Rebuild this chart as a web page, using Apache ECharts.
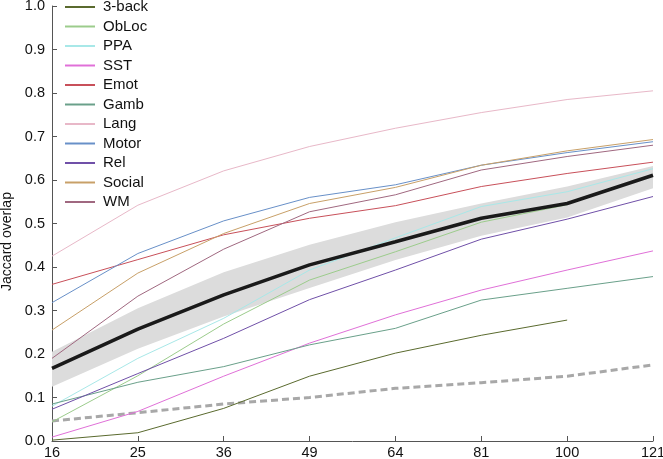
<!DOCTYPE html>
<html>
<head>
<meta charset="utf-8">
<script src="https://cdn.jsdelivr.net/npm/echarts@6/dist/echarts.min.js"></script>
<style>html,body{margin:0;padding:0;background:#fff}#c{width:663px;height:459px}</style>
</head>
<body>
<div id="c"></div>
<script>
var categories = ['16','25','36','49','64','81','100','121'];
var names = ['3-back','ObLoc','PPA','SST','Emot','Gamb','Lang','Motor','Rel','Social','WM'];
var colors = ['#5a6a2e','#9ccc8c','#a8e8e8','#e070d8','#c8505a','#6aa08a','#e8b8c8','#6890c8','#7050a8','#c8a068','#a06880'];
var back3  = [0.002,0.019,0.075,0.149,0.202,0.243,0.278,null];
var obloc  = [0.044,0.150,0.269,0.370,0.435,0.503,0.543,null];
var ppa    = [0.080,0.190,0.282,0.393,0.467,0.539,0.573,0.626];
var sst    = [0.009,0.068,0.149,0.225,0.290,0.347,0.393,0.437];
var emot   = [0.360,0.417,0.474,0.512,0.541,0.585,0.615,0.641];
var gamb   = [0.085,0.135,0.171,0.221,0.259,0.324,0.351,0.378];
var lang   = [0.425,0.542,0.621,0.677,0.719,0.755,0.785,0.805];
var motor  = [0.318,0.431,0.506,0.560,0.589,0.634,0.663,0.688];
var rel    = [0.073,0.155,0.236,0.325,0.393,0.464,0.510,0.562];
var social = [0.255,0.386,0.477,0.546,0.583,0.634,0.667,0.693];
var wm     = [0.190,0.333,0.441,0.527,0.566,0.623,0.654,0.680];
var meanVals  = [0.167,0.257,0.336,0.405,0.458,0.512,0.546,0.611];
var bandLower = [0.125,0.212,0.286,0.352,0.416,0.472,0.514,0.581];
var bandUpper = [0.205,0.305,0.388,0.451,0.503,0.546,0.585,0.632];
var nullVals  = [0.046,0.065,0.085,0.100,0.121,0.134,0.149,0.175];
var yTicks = ['0.0','0.1','0.2','0.3','0.4','0.5','0.6','0.7','0.8','0.9','1.0'];

var taskData = [back3,obloc,ppa,sst,emot,gamb,lang,motor,rel,social,wm];
var series = [];
series.push({type:'line', name:'bandLow', data:bandLower, stack:'band', symbol:'none', silent:true,
  lineStyle:{opacity:0}, z:1});
series.push({type:'line', name:'bandHigh', data:bandUpper.map(function(v,i){return v-bandLower[i];}), stack:'band', symbol:'none', silent:true,
  lineStyle:{opacity:0}, areaStyle:{color:'#dcdcdc', opacity:1}, z:1});
series.push({type:'line', name:'null', data:nullVals, symbol:'none',
  lineStyle:{color:'#a8a8a8', width:3, type:[7,4]}, z:2});
for (var i=0;i<names.length;i++){
  series.push({type:'line', name:names[i], data:taskData[i], symbol:'none', connectNulls:false,
    lineStyle:{color:colors[i], width:1}, itemStyle:{color:colors[i]}, z:3});
}
series.push({type:'line', name:'mean', data:meanVals, symbol:'none',
  lineStyle:{color:'#1a1a1a', width:3.5}, z:4});

var chart = echarts.init(document.getElementById('c'));
chart.setOption({
  animation:false,
  backgroundColor:'#fff',
  textStyle:{fontFamily:'Liberation Sans, Arial, sans-serif'},
  grid:{left:52, right:10, top:6, bottom:18, containLabel:false, outerBoundsMode:'none'},
  legend:{
    data:names, orient:'vertical', left:65, top:-1, padding:0,
    icon:'rect', itemWidth:30, itemHeight:2, itemGap:3.5,
    textStyle:{fontSize:15, color:'#111', lineHeight:16, padding:[0,0,0,3], fontFamily:'Liberation Sans, Arial, sans-serif'}
  },
  xAxis:{
    type:'category', data:categories, boundaryGap:false,
    axisLine:{lineStyle:{color:'#555', width:1}},
    axisTick:{inside:true, length:5, lineStyle:{color:'#555'}},
    axisLabel:{color:'#111', fontSize:14.5, margin:4}
  },
  yAxis:{
    type:'value', min:0, max:1, interval:0.1,
    name:'Jaccard overlap', nameLocation:'middle', nameGap:30,
    nameTextStyle:{fontSize:14, color:'#111', padding:[0,36,0,0]},
    axisLine:{show:true, lineStyle:{color:'#555', width:1}},
    axisTick:{show:true, inside:true, length:5, lineStyle:{color:'#555'}},
    splitLine:{show:false},
    axisLabel:{color:'#111', fontSize:14.5, margin:7, formatter:function(v){return yTicks[Math.round(v*10)];}}
  },
  series:series
});
</script>
</body>
</html>
